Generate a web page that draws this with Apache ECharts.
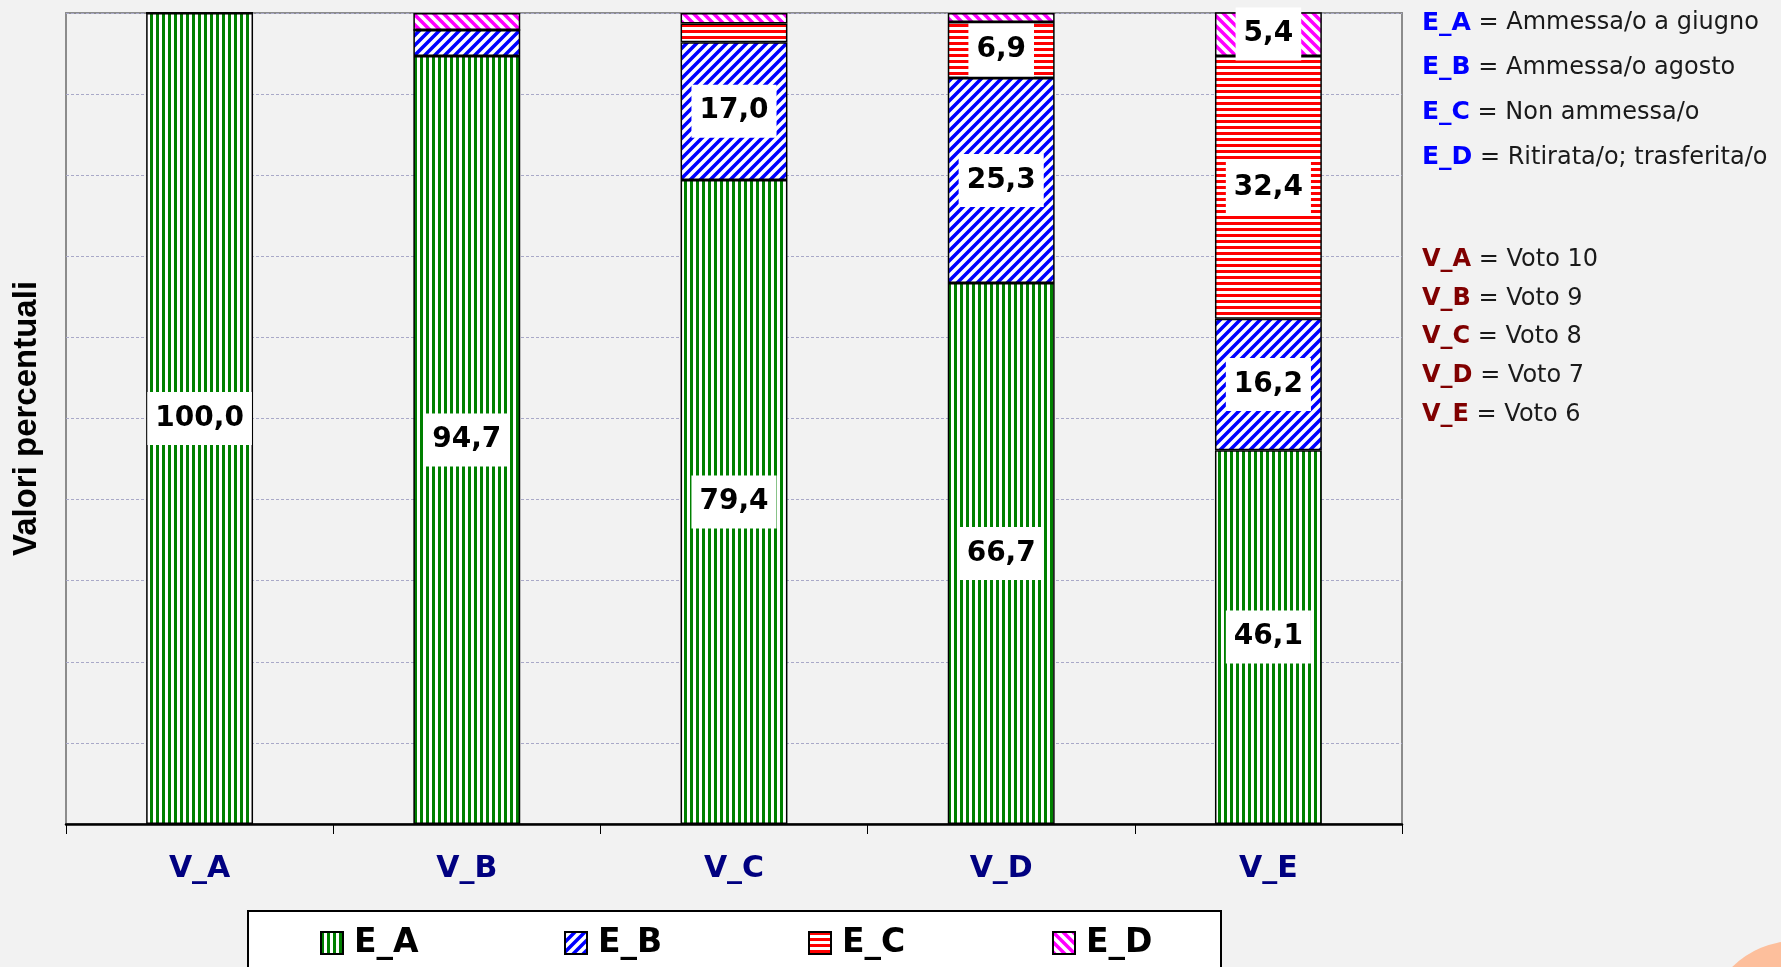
<!DOCTYPE html>
<html>
<head>
<meta charset="utf-8">
<script src="https://cdn.jsdelivr.net/npm/echarts@6/dist/echarts.min.js"></script>
<style>
  html, body { margin: 0; padding: 0; background: #f2f2f2; }
  #chart { width: 1781px; height: 967px; }
</style>
</head>
<body>
<div id="chart"></div>
<script>
  // dati (valori percentuali)
  var categories = ['V_A', 'V_B', 'V_C', 'V_D', 'V_E'];
  var seriesNames = ['E_A', 'E_B', 'E_C', 'E_D'];
  var valuesEA = [100.0, 94.7, 79.4, 66.7, 46.1];
  var valuesEB = [0, 3.2, 17.0, 25.3, 16.2];
  var valuesEC = [0, 0, 2.3, 6.9, 32.4];
  var valuesED = [0, 2.1, 1.3, 1.1, 5.4];
  var yTicks = [0, 10, 20, 30, 40, 50, 60, 70, 80, 90, 100];

  var eNotes = ['Ammessa/o a giugno', 'Ammessa/o agosto', 'Non ammessa/o', 'Ritirata/o; trasferita/o'];
  var vNotes = ['Voto 10', 'Voto 9', 'Voto 8', 'Voto 7', 'Voto 6'];

  var FONT = 'DejaVu Sans';

  // tratteggi delle barre
  function makePattern(kind, color) {
    var c = document.createElement('canvas');
    var ctx = c.getContext('2d');
    if (kind === 'vertical') {
      c.width = 6; c.height = 6;
      ctx.fillStyle = '#fff'; ctx.fillRect(0, 0, 6, 6);
      ctx.fillStyle = color; ctx.fillRect(0, 0, 3, 6);
    } else if (kind === 'horizontal') {
      c.width = 6; c.height = 6;
      ctx.fillStyle = '#fff'; ctx.fillRect(0, 0, 6, 6);
      ctx.fillStyle = color; ctx.fillRect(0, 0, 6, 3);
    } else {
      var s = 10;
      c.width = s; c.height = s;
      ctx.fillStyle = '#fff'; ctx.fillRect(0, 0, s, s);
      ctx.strokeStyle = color; ctx.lineWidth = 3.5;
      ctx.beginPath();
      if (kind === 'up') {
        ctx.moveTo(-2, s + 2); ctx.lineTo(s + 2, -2);
        ctx.moveTo(-2, 2); ctx.lineTo(2, -2);
        ctx.moveTo(s - 2, s + 2); ctx.lineTo(s + 2, s - 2);
      } else {
        ctx.moveTo(-2, -2); ctx.lineTo(s + 2, s + 2);
        ctx.moveTo(s - 2, -2); ctx.lineTo(s + 2, 2);
        ctx.moveTo(-2, s - 2); ctx.lineTo(2, s + 2);
      }
      ctx.stroke();
    }
    return { image: c, repeat: 'repeat' };
  }

  var patterns = [
    makePattern('vertical', '#008000'),
    makePattern('up', '#0000ff'),
    makePattern('horizontal', '#ff0000'),
    makePattern('down', '#ff00ff')
  ];
  var allValues = [valuesEA, valuesEB, valuesEC, valuesED];

  function fmt(v) {
    return v.toFixed(1).replace('.', ',');
  }

  var series = seriesNames.map(function (name, i) {
    return {
      name: name,
      type: 'bar',
      stack: 'tot',
      barWidth: '40%',
      itemStyle: {
        color: patterns[i],
        borderColor: '#000',
        borderWidth: 1.5
      },
      label: {
        position: 'inside',
        backgroundColor: '#fff',
        padding: [11, 8],
        color: '#000',
        fontFamily: FONT,
        fontWeight: 'bold',
        fontSize: 28,
        lineHeight: 31,
        formatter: function (p) { return fmt(p.value); }
      },
      data: allValues[i].map(function (v) {
        return { value: v, label: { show: v >= 5 } };
      })
    };
  });

  var graphics = [];
  eNotes.forEach(function (t, i) {
    graphics.push({
      type: 'text',
      left: 1422,
      top: 20 + i * 44.8 - 9.5,
      style: {
        text: '{c|' + seriesNames[i] + '}{d| = ' + t + '}',
        rich: {
          c: { fontFamily: FONT, fontWeight: 'bold', fontSize: 25, fill: '#0000ff', lineHeight: 30 },
          d: { fontFamily: FONT, fontSize: 24, fill: '#1a1a1a', lineHeight: 30 }
        }
      }
    });
  });
  vNotes.forEach(function (t, i) {
    graphics.push({
      type: 'text',
      left: 1422,
      top: 257.5 + i * 38.6 - 9.5,
      style: {
        text: '{c|' + categories[i] + '}{d| = ' + t + '}',
        rich: {
          c: { fontFamily: FONT, fontWeight: 'bold', fontSize: 24, fill: '#800000', lineHeight: 30 },
          d: { fontFamily: FONT, fontSize: 24, fill: '#1a1a1a', lineHeight: 30 }
        }
      }
    });
  });
  // angolo decorativo in basso a destra
  graphics.push({
    type: 'circle',
    shape: { cx: 1795, cy: 1030, r: 89 },
    style: { fill: '#fdbf9c' },
    silent: true
  });

  var myChart = echarts.init(document.getElementById('chart'));
  myChart.setOption({
    backgroundColor: '#f2f2f2',
    animation: false,
    grid: {
      left: 66,
      right: 379,
      top: 13,
      bottom: 143,
      show: true,
      borderColor: '#8c8c8c',
      borderWidth: 2,
      backgroundColor: 'transparent'
    },
    legend: {
      data: seriesNames,
      left: 248,
      top: 911,
      orient: 'horizontal',
      backgroundColor: '#fff',
      borderColor: '#000',
      borderWidth: 2,
      borderRadius: 0,
      padding: [14, 65, 40, 72],
      itemWidth: 22,
      itemHeight: 22,
      itemGap: 140,
      icon: 'rect',
      textStyle: {
        fontFamily: FONT,
        fontWeight: 'bold',
        fontSize: 33,
        color: '#000',
        width: 70,
        lineHeight: 36,
        padding: [0, 0, 0, 6]
      }
    },
    xAxis: {
      type: 'category',
      data: categories,
      axisLine: { show: true, lineStyle: { color: '#000', width: 2.5 } },
      axisTick: { show: true, alignWithLabel: false, length: 10, lineStyle: { color: '#000', width: 1 } },
      axisLabel: {
        margin: 30,
        color: '#000080',
        fontFamily: FONT,
        fontWeight: 'bold',
        fontSize: 30
      }
    },
    yAxis: {
      type: 'value',
      min: yTicks[0],
      max: yTicks[yTicks.length - 1],
      interval: yTicks[1] - yTicks[0],
      name: 'Valori percentuali',
      nameLocation: 'middle',
      nameGap: 23,
      nameTextStyle: {
        fontFamily: 'Liberation Sans',
        fontWeight: 'bold',
        fontSize: 33,
        color: '#000'
      },
      axisLabel: { show: false },
      axisTick: { show: false },
      axisLine: { show: false },
      splitLine: {
        show: true,
        lineStyle: { color: '#a9a9c8', width: 1, type: [3, 2] }
      }
    },
    graphic: graphics,
    series: series
  });
</script>
</body>
</html>
